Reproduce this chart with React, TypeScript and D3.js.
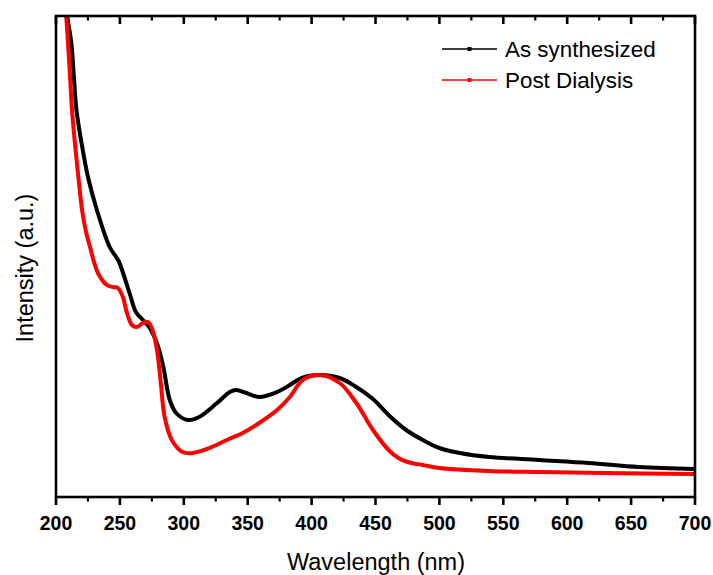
import React from "react";
import * as d3 from "d3";

const wavelengthsA = [207, 209, 212, 214, 216, 220, 225, 232, 242, 249, 253, 258, 262.5, 268, 273, 277, 280, 284, 289, 294, 303, 312, 326, 336, 341, 349, 359, 373, 383, 392, 406, 422, 435, 448, 461, 474, 487, 500, 516, 539, 578, 617, 656, 700];
const asSynthesized = [5.05, 4.79, 4.54, 4.2, 3.87, 3.54, 3.2, 2.87, 2.5, 2.36, 2.22, 2.02, 1.85, 1.77, 1.7, 1.6, 1.5, 1.3, 0.97, 0.84, 0.77, 0.8, 0.94, 1.05, 1.07, 1.04, 1.0, 1.05, 1.12, 1.19, 1.22, 1.19, 1.1, 0.98, 0.81, 0.67, 0.57, 0.49, 0.44, 0.4, 0.37, 0.34, 0.3, 0.28];

const wavelengthsB = [206.5, 208, 209.4, 211, 212.5, 214.8, 217.5, 220.5, 223.5, 226.6, 232.8, 239.8, 244.5, 248.4, 252.3, 255.5, 259.4, 263.3, 268, 272, 275, 279, 282, 285, 290.6, 299, 307, 320, 333.6, 346, 359, 373, 383, 393, 406, 422, 435, 448, 461, 468, 474, 480, 487, 500, 539, 578, 630, 700];
const postDialysis = [5.05, 4.81, 4.54, 4.2, 3.87, 3.54, 3.2, 2.86, 2.65, 2.5, 2.24, 2.12, 2.1, 2.09, 2.0, 1.84, 1.72, 1.7, 1.74, 1.75, 1.69, 1.47, 1.14, 0.8, 0.57, 0.45, 0.44, 0.49, 0.57, 0.64, 0.74, 0.87, 1.0, 1.17, 1.22, 1.14, 0.94, 0.67, 0.46, 0.39, 0.355, 0.335, 0.32, 0.29, 0.26, 0.25, 0.24, 0.23];

const majorTicks = [200, 250, 300, 350, 400, 450, 500, 550, 600, 650, 700];
const minorTicks = [225, 275, 325, 375, 425, 475, 525, 575, 625, 675];
const seriesNames = ["As synthesized", "Post Dialysis"];
const seriesColors = ["#000000", "#ff0000"];

export default function App() {
  const left = 56, right = 695, top = 16, bottom = 497;
  const x = d3.scaleLinear().domain([200, 700]).range([left, right]);
  const y = d3.scaleLinear().domain([0, 4.81]).range([bottom, top]);
  const line = d3
    .line<[number, number]>()
    .x((d) => x(d[0]))
    .y((d) => y(d[1]))
    .curve(d3.curveCatmullRom.alpha(0.5));
  const dataA = wavelengthsA.map((w, i) => [w, asSynthesized[i]] as [number, number]);
  const dataB = wavelengthsB.map((w, i) => [w, postDialysis[i]] as [number, number]);
  const font = "Arial, 'Liberation Sans', sans-serif";

  return (
    <svg width={713} height={575} style={{ position: "absolute", left: 0, top: 0, background: "#fff" }}>
      <defs>
        <clipPath id="plot">
          <rect x={left} y={top} width={right - left} height={bottom - top} />
        </clipPath>
      </defs>
      <g clipPath="url(#plot)">
        <path d={line(dataA) || ""} fill="none" stroke={seriesColors[0]} strokeWidth={4} strokeLinejoin="round" />
        <path d={line(dataB) || ""} fill="none" stroke={seriesColors[1]} strokeWidth={4} strokeLinejoin="round" />
      </g>
      <rect x={left} y={top} width={right - left} height={bottom - top} fill="none" stroke="#000" strokeWidth={2.6} />
      {majorTicks.map((t) => (
        <g key={"M" + t}>
          <line x1={x(t)} x2={x(t)} y1={bottom} y2={bottom + 8} stroke="#000" strokeWidth={2.6} />
          <line x1={x(t)} x2={x(t)} y1={top} y2={top + 8} stroke="#000" strokeWidth={2.6} />
          <text x={x(t)} y={530} textAnchor="middle" fontFamily={font} fontWeight="bold" fontSize={19.5} fill="#000">
            {t}
          </text>
        </g>
      ))}
      {minorTicks.map((t) => (
        <g key={"m" + t}>
          <line x1={x(t)} x2={x(t)} y1={bottom} y2={bottom + 4.5} stroke="#000" strokeWidth={2.2} />
          <line x1={x(t)} x2={x(t)} y1={top} y2={top + 4.5} stroke="#000" strokeWidth={2.2} />
        </g>
      ))}
      <text x={376} y={570} textAnchor="middle" fontFamily={font} fontSize={23.5} fill="#000">
        Wavelength (nm)
      </text>
      <text transform="translate(33,268) rotate(-90)" textAnchor="middle" fontFamily={font} fontSize={23.5} fill="#000">
        Intensity (a.u.)
      </text>
      {seriesNames.map((n, i) => {
        const ly = 49 + i * 31;
        return (
          <g key={n}>
            <line x1={442} x2={497} y1={ly} y2={ly} stroke={seriesColors[i]} strokeWidth={1.3} />
            <rect x={467.5} y={ly - 2} width={4} height={4} fill={seriesColors[i]} />
            <text x={505} y={ly + 8} fontFamily={font} fontSize={22.4} fill="#000">
              {n}
            </text>
          </g>
        );
      })}
    </svg>
  );
}
